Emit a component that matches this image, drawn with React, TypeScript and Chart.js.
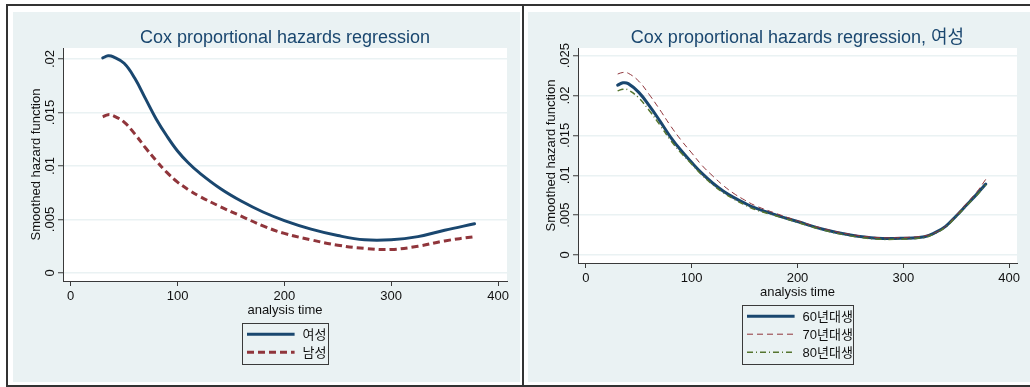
import React, { useEffect, useRef } from 'react';
import { Chart, registerables } from 'chart.js';

Chart.register(...registerables);

// ---------- data ----------
const xTickValues = [0, 100, 200, 300, 400];
const xTickLabels = ['0', '100', '200', '300', '400'];

const leftYTickValues = [0, 0.005, 0.01, 0.015, 0.02];
const leftYTickLabels = ['0', '.005', '.01', '.015', '.02'];
const rightYTickValues = [0, 0.005, 0.01, 0.015, 0.02, 0.025];
const rightYTickLabels = ['0', '.005', '.01', '.015', '.02', '.025'];

const leftTitle = 'Cox proportional hazards regression';
const rightTitle = 'Cox proportional hazards regression, 여성';
const xAxisTitle = 'analysis time';
const yAxisTitle = 'Smoothed hazard function';

const leftSeriesLabels = ['여성', '남성'];
const leftTimes = [30, 35, 40, 50, 60, 70, 80, 90, 100, 110, 120, 140, 160, 180, 200, 225, 250, 275, 300, 325, 350, 378];
const femaleHazard = [0.0201, 0.0203, 0.0202, 0.0196, 0.0182, 0.0163, 0.0144, 0.0128, 0.0114, 0.0103, 0.0094, 0.0079, 0.0067, 0.0057, 0.0049, 0.0041, 0.0035, 0.0031, 0.0031, 0.0034, 0.0040, 0.0046];
const maleHazard = [0.0146, 0.0148, 0.0147, 0.0141, 0.0130, 0.0117, 0.0105, 0.0094, 0.0085, 0.0078, 0.0072, 0.0062, 0.0053, 0.0044, 0.0037, 0.0031, 0.0026, 0.0023, 0.0022, 0.0025, 0.0030, 0.0034];

const rightSeriesLabels = ['60년대생', '70년대생', '80년대생'];
const rightTimes = [30, 35, 40, 50, 60, 70, 80, 90, 100, 110, 120, 130, 140, 150, 160, 180, 200, 225, 250, 275, 300, 320, 330, 340, 350, 360, 370, 378];
const cohort60 = [0.0213, 0.0216, 0.0215, 0.0204, 0.0187, 0.0168, 0.0148, 0.0131, 0.0116, 0.0102, 0.0090, 0.0080, 0.0072, 0.0065, 0.0059, 0.0050, 0.0042, 0.0032, 0.0025, 0.0021, 0.0021, 0.0023, 0.0028, 0.0036, 0.0049, 0.0063, 0.0077, 0.0089];
const cohort70 = [0.0227, 0.0229, 0.0228, 0.0218, 0.0201, 0.0182, 0.0162, 0.0144, 0.0128, 0.0112, 0.0099, 0.0087, 0.0077, 0.0069, 0.0062, 0.0052, 0.0043, 0.0033, 0.0026, 0.0022, 0.0022, 0.0024, 0.0028, 0.0036, 0.0050, 0.0065, 0.0080, 0.0095];
const cohort80 = [0.0206, 0.0208, 0.0207, 0.0197, 0.0181, 0.0163, 0.0144, 0.0128, 0.0114, 0.0100, 0.0088, 0.0078, 0.0070, 0.0063, 0.0057, 0.0049, 0.0041, 0.0031, 0.0024, 0.0020, 0.0020, 0.0022, 0.0027, 0.0035, 0.0048, 0.0062, 0.0076, 0.0088];

// ---------- styles ----------
const BG = '#eaf2f3';
const GRID = '#eaf2f3';
const AXIS = '#3a3a3a';
const TEXT = '#111111';
const TITLE = '#1a476f';
const BLUE = '#1a476f';
const RED = '#90353b';
const GREEN = '#55752f';
const FONT = '"Liberation Sans", Arial, "Noto Sans CJK KR", sans-serif';

const toPoints = (xs: number[], ys: number[]) => xs.map((x, i) => ({ x, y: ys[i] }));

type Spec = {
  title: string;
  yTickValues: number[];
  yTickLabels: string[];
  legendW: number;
  legendH: number;
};

function makePlugin(spec: Spec) {
  return {
    id: 'stataDecor',
    beforeDraw(chart: any) {
      const { ctx, width, height, chartArea: a } = chart;
      ctx.save();
      ctx.fillStyle = BG;
      ctx.fillRect(0, 0, width, height);
      ctx.fillStyle = '#ffffff';
      ctx.fillRect(a.left, a.top, a.right - a.left, a.bottom - a.top);
      ctx.restore();
    },
    afterDraw(chart: any) {
      const { ctx, chartArea: a } = chart;
      const xs = chart.scales.x;
      const ys = chart.scales.y;
      const cx = (a.left + a.right) / 2;
      ctx.save();
      // title
      ctx.fillStyle = TITLE;
      ctx.font = `18px ${FONT}`;
      ctx.textAlign = 'center';
      ctx.textBaseline = 'alphabetic';
      ctx.fillText(spec.title, cx, a.top - 5.3);
      // x tick labels
      ctx.fillStyle = TEXT;
      ctx.font = `13px ${FONT}`;
      xTickValues.forEach((v, i) => {
        ctx.fillText(xTickLabels[i], xs.getPixelForValue(v), a.bottom + 19.3);
      });
      // x title
      ctx.fillText(xAxisTitle, cx, a.bottom + 32.5);
      // y tick labels (rotated)
      spec.yTickValues.forEach((v, i) => {
        ctx.save();
        ctx.translate(a.left - 9, ys.getPixelForValue(v));
        ctx.rotate(-Math.PI / 2);
        ctx.fillText(spec.yTickLabels[i], 0, 0);
        ctx.restore();
      });
      // y title
      ctx.save();
      ctx.translate(27, (a.top + a.bottom) / 2);
      ctx.rotate(-Math.PI / 2);
      ctx.fillText(yAxisTitle, 0, 0);
      ctx.restore();
      // legend
      const bx = cx - spec.legendW / 2;
      const by = a.bottom + 42;
      ctx.textAlign = 'left';
      ctx.font = `13px ${FONT}`;
      chart.data.datasets.forEach((ds: any, i: number) => {
        const ry = by + 11.2 + i * 18;
        ctx.save();
        ctx.strokeStyle = ds.borderColor;
        ctx.lineWidth = ds.borderWidth;
        ctx.setLineDash(ds.borderDash || []);
        ctx.lineCap = 'butt';
        ctx.beginPath();
        ctx.moveTo(bx + 5, ry);
        ctx.lineTo(bx + 52.6, ry);
        ctx.stroke();
        ctx.restore();
        ctx.fillStyle = TEXT;
        ctx.fillText(ds.label, bx + 60.5, ry + 4.6);
      });
      ctx.strokeStyle = AXIS;
      ctx.lineWidth = 1;
      ctx.setLineDash([]);
      ctx.strokeRect(Math.round(bx) + 0.5, Math.round(by) + 0.5, Math.round(spec.legendW), Math.round(spec.legendH));
      ctx.restore();
    },
  };
}

function buildConfig(spec: Spec, datasets: any[], xMin: number, xMax: number, yMin: number, yMax: number, xAxisHeight: number) {
  return {
    type: 'line' as const,
    data: { datasets },
    options: {
      responsive: false,
      animation: false,
      devicePixelRatio: 1,
      layout: { padding: { left: 0, top: 36, right: 13, bottom: 0 } },
      plugins: {
        legend: { display: false },
        title: { display: false },
        tooltip: { enabled: false },
      },
      elements: {
        point: { radius: 0 },
        line: { tension: 0.4 },
      },
      scales: {
        x: {
          type: 'linear',
          min: xMin,
          max: xMax,
          afterBuildTicks: (s: any) => {
            s.ticks = xTickValues.map((v) => ({ value: v }));
          },
          afterFit: (s: any) => {
            s.height = xAxisHeight;
          },
          ticks: { display: false },
          grid: { drawOnChartArea: false, drawTicks: true, tickLength: 5, tickColor: AXIS, tickWidth: 1, color: AXIS },
          border: { display: true, color: AXIS, width: 1 },
        },
        y: {
          type: 'linear',
          min: yMin,
          max: yMax,
          afterBuildTicks: (s: any) => {
            s.ticks = spec.yTickValues.map((v) => ({ value: v }));
          },
          afterFit: (s: any) => {
            s.width = 50;
          },
          ticks: { display: false },
          grid: { color: GRID, lineWidth: 1.5, drawTicks: true, tickLength: 5, tickColor: AXIS, tickWidth: 1 },
          border: { display: true, color: AXIS, width: 1 },
        },
      },
    },
    plugins: [makePlugin(spec)],
  };
}

function ChartPanel(props: { left: number; top: number; width: number; height: number; make: () => any }) {
  const ref = useRef<HTMLCanvasElement>(null);
  useEffect(() => {
    const chart = new Chart(ref.current as HTMLCanvasElement, props.make());
    return () => chart.destroy();
  }, []);
  return (
    <canvas
      ref={ref}
      width={props.width}
      height={props.height}
      style={{ position: 'absolute', left: props.left, top: props.top, width: props.width, height: props.height }}
    />
  );
}

const leftSpec: Spec = { title: leftTitle, yTickValues: leftYTickValues, yTickLabels: leftYTickLabels, legendW: 86, legendH: 41 };
const rightSpec: Spec = { title: rightTitle, yTickValues: rightYTickValues, yTickLabels: rightYTickLabels, legendW: 111, legendH: 59 };

const makeLeft = () =>
  buildConfig(
    leftSpec,
    [
      { label: leftSeriesLabels[0], data: toPoints(leftTimes, femaleHazard), borderColor: BLUE, borderWidth: 3, borderDash: [], fill: false, borderCapStyle: 'round' },
      { label: leftSeriesLabels[1], data: toPoints(leftTimes, maleHazard), borderColor: RED, borderWidth: 3, borderDash: [7, 4], fill: false },
    ],
    -7.21,
    408.4,
    -0.000748,
    0.021028,
    101
  );

const makeRight = () =>
  buildConfig(
    rightSpec,
    [
      { label: rightSeriesLabels[0], data: toPoints(rightTimes, cohort60), borderColor: BLUE, borderWidth: 3, borderDash: [], fill: false, order: 3, borderCapStyle: 'round' },
      { label: rightSeriesLabels[1], data: toPoints(rightTimes, cohort70), borderColor: RED, borderWidth: 1, borderDash: [6, 4], fill: false, order: 2 },
      { label: rightSeriesLabels[2], data: toPoints(rightTimes, cohort80), borderColor: GREEN, borderWidth: 1.5, borderDash: [6, 3, 1, 3], fill: false, order: 1 },
    ],
    -7.49,
    407.5,
    -0.001003,
    0.025966,
    119
  );

export default function App() {
  const line = (s: React.CSSProperties) => <div style={{ position: 'absolute', background: '#333', ...s }} />;
  return (
    <div style={{ position: 'fixed', left: 0, top: 0, width: 1030, height: 387, background: '#ffffff', overflow: 'hidden' }}>
      <ChartPanel left={13} top={12} width={507} height={370} make={makeLeft} />
      <ChartPanel left={528} top={12} width={502} height={370} make={makeRight} />
      {line({ left: 6, top: 4, width: 1024, height: 2 })}
      {line({ left: 6, top: 4, width: 2, height: 383 })}
      {line({ left: 6, top: 385, width: 1024, height: 2 })}
      {line({ left: 522, top: 4, width: 2, height: 383 })}
    </div>
  );
}
